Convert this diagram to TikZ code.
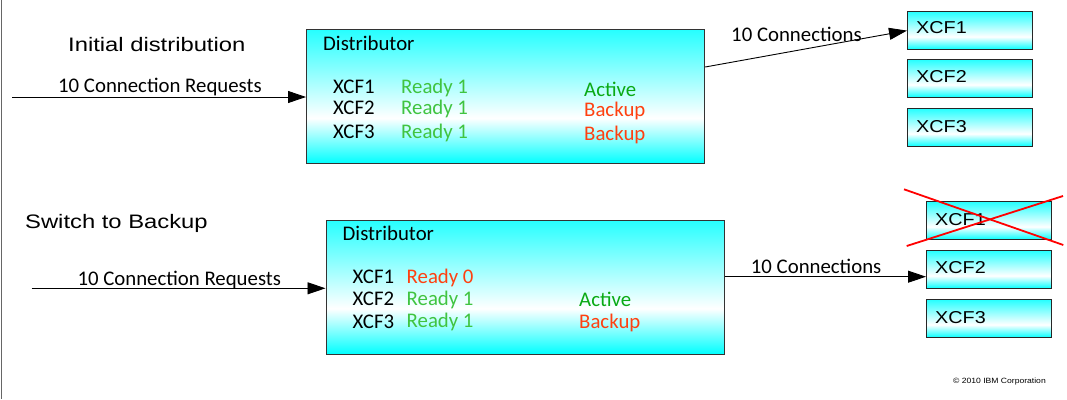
\documentclass[tikz,border=0pt]{standalone}
\usepackage{fontspec}
\setmainfont{Carlito}
\newfontfamily\arialf{Liberation Sans}
\usetikzlibrary{arrows.meta}
\definecolor{readyg}{RGB}{64,196,64}
\definecolor{activeg}{RGB}{10,170,20}
\definecolor{backupr}{RGB}{255,64,16}
\definecolor{boxcyan}{RGB}{0,255,255}
\pgfdeclareverticalshading{cyanwhite}{100bp}{color(0bp)=(boxcyan); color(25bp)=(boxcyan); color(42bp)=(white); color(75bp)=(boxcyan!85!white); color(100bp)=(boxcyan!85!white)}
\tikzset{
  txt/.style={inner sep=0pt, anchor=base west, font=\fontsize{20.8}{23}\selectfont},
  heading/.style={inner sep=0pt, anchor=base west, font=\arialf\fontsize{19.5}{22}\selectfont},
  xcftxt/.style={inner sep=0pt, anchor=base west, font=\arialf\fontsize{17.2}{20}\selectfont},
  distbox/.style={draw=black!80, line width=1.2pt, shading=cyanwhite, anchor=north west, inner sep=0pt},
  xcfbox/.style={draw=black!85, line width=1.2pt, shading=cyanwhite, anchor=north west, inner sep=0pt, minimum width=125pt, minimum height=38pt},
  arr/.style={line width=0.9pt, -{Triangle[length=18pt,width=12pt]}},
  cross/.style={draw=red, line width=1.8pt}
}
\newcommand{\hs}[1]{\scalebox{1.22}[1]{#1}}
\newcommand{\xs}[1]{\scalebox{1.15}[1]{#1}}
\begin{document}
\begin{tikzpicture}[x=1pt,y=-1pt]
\useasboundingbox (0,0) rectangle (1067,399);
\fill[white] (0,0) rectangle (1067,399);
\draw[line width=1.5pt, draw=black!60] (1.5,0) -- (1.5,399);

% ---------- top part ----------
\node[heading] (h1) at (68,51.7) {\hs{Initial distribution}};
\node[distbox, minimum width=398pt, minimum height=134pt] (d1) at (306,29) {};
\node[txt] (d1t) at (323,50) {Distributor};
\node[txt] (a1) at (333,93) {XCF1};
\node[txt] (a2) at (333,114) {XCF2};
\node[txt] (a3) at (333,138) {XCF3};
\node[txt, text=readyg] (r1) at (401,93) {Ready 1};
\node[txt, text=readyg] (r2) at (401,114) {Ready 1};
\node[txt, text=readyg] (r3) at (401,138) {Ready 1};
\node[txt, text=activeg] (s1) at (584,96) {Active};
\node[txt, text=backupr] (s2) at (584,116.5) {Backup};
\node[txt, text=backupr] (s3) at (584,140) {Backup};

\node[xcfbox] (t1) at (907,11) {};
\node[xcfbox] (t2) at (907,59) {};
\node[xcfbox] (t3) at (907,108) {};
\node[xcftxt] (t1t) at (916,33.3) {\xs{XCF1}};
\node[xcftxt] (t2t) at (916,82.7) {\xs{XCF2}};
\node[xcftxt] (t3t) at (916,132.3) {\xs{XCF3}};

\coordinate (inA) at (12,97);
\draw[arr] (inA) -- (inA -| d1.west);
\node[txt] (inAl) at (58,92) {10 Connection Requests};
\coordinate (oA) at (d1.east |- 0,67);
\draw[arr] (oA) -- (t1.west);
\node[txt] (oAl) at (731,41.5) {10 Connections};

% ---------- bottom part ----------
\node[heading] (h2) at (25,228.3) {\hs{Switch to Backup}};
\node[distbox, minimum width=398pt, minimum height=134pt] (d2) at (325.5,219.5) {};
\node[txt] (d2t) at (342.5,240) {Distributor};
\node[txt] (b1) at (352.5,283.3) {XCF1};
\node[txt] (b2) at (352.5,305) {XCF2};
\node[txt] (b3) at (352.5,328) {XCF3};
\node[txt, text=backupr] (q1) at (406.5,283.3) {Ready 0};
\node[txt, text=readyg] (q2) at (406.5,305) {Ready 1};
\node[txt, text=readyg] (q3) at (406.5,327.5) {Ready 1};
\node[txt, text=activeg] (p2) at (579,306) {Active};
\node[txt, text=backupr] (p3) at (579,328.3) {Backup};

\node[xcfbox] (u1) at (926,201) {};
\node[xcfbox] (u2) at (926,250) {};
\node[xcfbox] (u3) at (926,299) {};
\node[xcftxt] (u1t) at (935,225) {\xs{XCF1}};
\node[xcftxt] (u2t) at (935,273.3) {\xs{XCF2}};
\node[xcftxt] (u3t) at (935,323.5) {\xs{XCF3}};
\coordinate (c1) at (904,189.3);
\coordinate (c2) at (1063.3,245);
\coordinate (c3) at (906.7,246);
\coordinate (c4) at (1063,196);
\draw[cross] (c1) -- (c2);
\draw[cross] (c3) -- (c4);

\coordinate (inB) at (31.7,288.3);
\draw[arr] (inB) -- (inB -| d2.west);
\node[txt] (inBl) at (77.3,285) {10 Connection Requests};
\coordinate (oB) at (d2.east |- 0,276.7);
\draw[arr] (oB) -- (oB -| u2.west);
\node[txt] (oBl) at (750.7,273.3) {10 Connections};

\node[inner sep=0pt, anchor=base east, font=\arialf\fontsize{7.6}{9}\selectfont] (copy) at (1046,383.3) {\scalebox{1.13}[1]{\textcopyright{} 2010 IBM Corporation}};
\end{tikzpicture}
\end{document}
